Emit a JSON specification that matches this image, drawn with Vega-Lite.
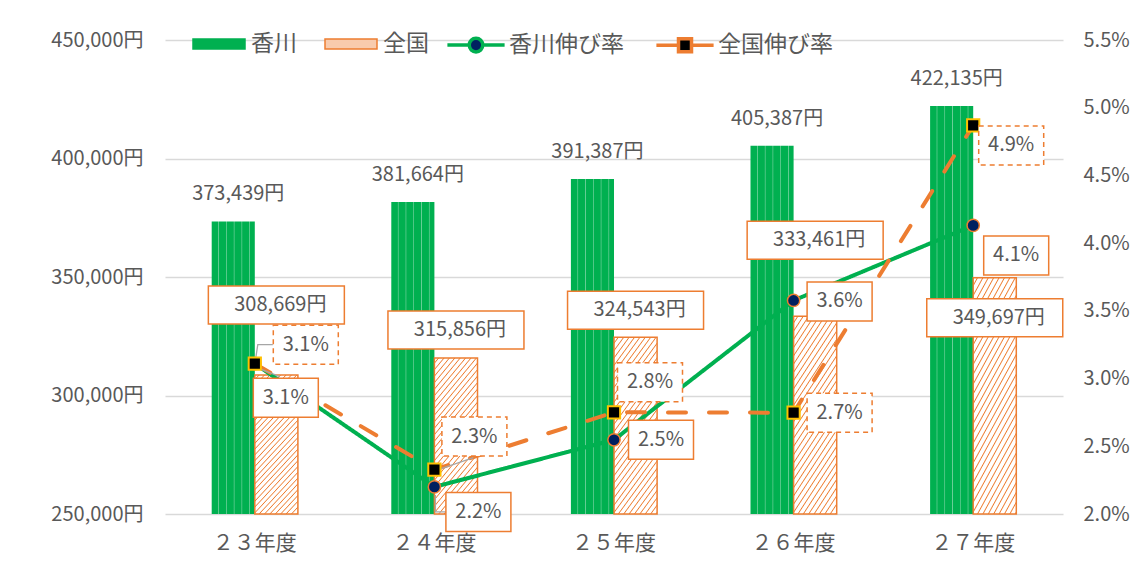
{
  "$schema": "https://vega.github.io/schema/vega-lite/v6.json",
  "width": 898,
  "height": 474,
  "autosize": {"type": "none"},
  "padding": {"left": 165, "top": 40, "right": 76, "bottom": 58},
  "background": "#ffffff",
  "params": [
    {"name": "yrs", "value": ["２３年度", "２４年度", "２５年度", "２６年度", "２７年度"]},
    {"name": "ady", "value": [-70, -28, -27, -76, 40]},
    {"name": "kdx", "value": [31, 44, 47, 46, 43]},
    {"name": "kdy", "value": [34, 25, 0, 1, 30]},
    {"name": "zdx", "value": [51, 40, 36, 46, 38]},
    {"name": "zdy", "value": [-19, -33, -30, 0, 20]},
    {"name": "kld", "value": ["M2,4L25,13", "M1,8V25H13"]},
    {"name": "zld", "value": ["M1,-6L3,-19H18", "M4,0L39,-12"]}
  ],
  "config": {
    "font": "Noto Sans CJK JP",
    "locale": {"number": {"decimal": ".", "thousands": ",", "grouping": [3], "currency": ["", "円"]}},
    "view": {"stroke": null},
    "axis": {"labelFont": "Noto Sans CJK JP", "labelColor": "#595959", "labelFontSize": 20, "ticks": false, "domain": false},
    "legend": {"labelFont": "Noto Sans CJK JP", "labelFontSize": 23, "labelColor": "#595959", "labelLimit": 300, "padding": 0, "symbolSize": 2704, "labelOffset": 5, "columnPadding": 25, "direction": "horizontal", "orient": "none", "symbolOpacity": 1}
  },
  "datasets": {
    "amounts": [
      {"year": "２３年度", "series": "香川", "value": 373439},
      {"year": "２４年度", "series": "香川", "value": 381664},
      {"year": "２５年度", "series": "香川", "value": 391387},
      {"year": "２６年度", "series": "香川", "value": 405387},
      {"year": "２７年度", "series": "香川", "value": 422135},
      {"year": "２３年度", "series": "全国", "value": 308669},
      {"year": "２４年度", "series": "全国", "value": 315856},
      {"year": "２５年度", "series": "全国", "value": 324543},
      {"year": "２６年度", "series": "全国", "value": 333461},
      {"year": "２７年度", "series": "全国", "value": 349697}
    ],
    "rates": [
      {"year": "２３年度", "series": "香川伸び率", "rate": 0.0311},
      {"year": "２４年度", "series": "香川伸び率", "rate": 0.0220},
      {"year": "２５年度", "series": "香川伸び率", "rate": 0.02548},
      {"year": "２６年度", "series": "香川伸び率", "rate": 0.03577},
      {"year": "２７年度", "series": "香川伸び率", "rate": 0.04131},
      {"year": "２３年度", "series": "全国伸び率", "rate": 0.0311},
      {"year": "２４年度", "series": "全国伸び率", "rate": 0.02328},
      {"year": "２５年度", "series": "全国伸び率", "rate": 0.02751},
      {"year": "２６年度", "series": "全国伸び率", "rate": 0.02748},
      {"year": "２７年度", "series": "全国伸び率", "rate": 0.04869}
    ]
  },
  "encoding": {
    "x": {
      "field": "year", "type": "nominal", "title": null,
      "sort": ["２３年度", "２４年度", "２５年度", "２６年度", "２７年度"],
      "scale": {"paddingInner": 0.52, "paddingOuter": 0.26},
      "axis": {"labelAngle": 0, "labelPadding": 18, "labelFontSize": 21, "grid": false}
    }
  },
  "layer": [
    {
      "data": {"name": "amounts"},
      "encoding": {
        "y": {
          "field": "value", "type": "quantitative", "title": null,
          "scale": {"domain": [250000, 450000], "zero": false, "nice": false},
          "axis": {"values": [250000, 300000, 350000, 400000, 450000], "format": "$,d", "grid": true, "gridColor": "#D9D9D9", "gridWidth": 1.5, "labelPadding": 22}
        },
        "xOffset": {"field": "series", "type": "nominal", "scale": {"domain": ["香川", "全国"], "paddingInner": 0, "paddingOuter": 0}}
      },
      "layer": [
        {
          "mark": {"type": "bar", "opacity": 0},
          "encoding": {
            "y2": {"datum": 250000},
            "fill": {"field": "series", "type": "nominal", "scale": {"domain": ["香川", "全国"], "range": ["#00B050", "#F8CBAD"]},
              "legend": {"title": null, "legendX": 27, "legendY": -23, "symbolType": "M-1,-0.19H1V0.19H-1Z", "symbolStrokeWidth": 1.5}},
            "stroke": {"field": "series", "type": "nominal", "scale": {"domain": ["香川", "全国"], "range": ["#00B050", "#ED7D31"]},
              "legend": {"title": null, "legendX": 27, "legendY": -23, "symbolType": "M-1,-0.19H1V0.19H-1Z", "symbolStrokeWidth": 1.5}}
          }
        },
        {
          "transform": [{"filter": "datum.series === '香川'"}],
          "mark": {"type": "bar", "strokeWidth": 0, "fill": {"gradient": "linear", "x1": 0, "y1": 0, "x2": 1, "y2": 0, "stops": [
            {"offset": 0, "color": "#00B050"}, {"offset": 0.142, "color": "#00B050"}, {"offset": 0.16, "color": "#6ACF98"}, {"offset": 0.178, "color": "#00B050"},
            {"offset": 0.322, "color": "#00B050"}, {"offset": 0.34, "color": "#6ACF98"}, {"offset": 0.358, "color": "#00B050"},
            {"offset": 0.502, "color": "#00B050"}, {"offset": 0.52, "color": "#6ACF98"}, {"offset": 0.538, "color": "#00B050"},
            {"offset": 0.682, "color": "#00B050"}, {"offset": 0.7, "color": "#6ACF98"}, {"offset": 0.718, "color": "#00B050"},
            {"offset": 0.862, "color": "#00B050"}, {"offset": 0.88, "color": "#6ACF98"}, {"offset": 0.898, "color": "#00B050"}, {"offset": 1, "color": "#00B050"}]}},
          "encoding": {"y2": {"datum": 250000}}
        },
        {
          "transform": [{"filter": "datum.series === '全国'"}],
          "mark": {"type": "bar", "stroke": "#ED7D31", "strokeWidth": 1.5, "fill": {"gradient": "linear", "x1": 0, "y1": 0, "x2": 1, "y2": 3, "stops": [
            {"offset": 0, "color": "#FFFFFF"}, {"offset": 0.0075, "color": "#FFFFFF"}, {"offset": 0.01, "color": "#ED7D31"},
            {"offset": 0.0125, "color": "#FFFFFF"}, {"offset": 0.02, "color": "#FFFFFF"}, {"offset": 0.0225, "color": "#ED7D31"},
            {"offset": 0.025, "color": "#FFFFFF"}, {"offset": 0.0325, "color": "#FFFFFF"}, {"offset": 0.035, "color": "#ED7D31"},
            {"offset": 0.0375, "color": "#FFFFFF"}, {"offset": 0.045, "color": "#FFFFFF"}, {"offset": 0.0475, "color": "#ED7D31"},
            {"offset": 0.05, "color": "#FFFFFF"}, {"offset": 0.0575, "color": "#FFFFFF"}, {"offset": 0.06, "color": "#ED7D31"},
            {"offset": 0.0625, "color": "#FFFFFF"}, {"offset": 0.07, "color": "#FFFFFF"}, {"offset": 0.0725, "color": "#ED7D31"},
            {"offset": 0.075, "color": "#FFFFFF"}, {"offset": 0.0825, "color": "#FFFFFF"}, {"offset": 0.085, "color": "#ED7D31"},
            {"offset": 0.0875, "color": "#FFFFFF"}, {"offset": 0.095, "color": "#FFFFFF"}, {"offset": 0.0975, "color": "#ED7D31"},
            {"offset": 0.1, "color": "#FFFFFF"}, {"offset": 0.1075, "color": "#FFFFFF"}, {"offset": 0.11, "color": "#ED7D31"},
            {"offset": 0.1125, "color": "#FFFFFF"}, {"offset": 0.12, "color": "#FFFFFF"}, {"offset": 0.1225, "color": "#ED7D31"},
            {"offset": 0.125, "color": "#FFFFFF"}, {"offset": 0.1325, "color": "#FFFFFF"}, {"offset": 0.135, "color": "#ED7D31"},
            {"offset": 0.1375, "color": "#FFFFFF"}, {"offset": 0.145, "color": "#FFFFFF"}, {"offset": 0.1475, "color": "#ED7D31"},
            {"offset": 0.15, "color": "#FFFFFF"}, {"offset": 0.1575, "color": "#FFFFFF"}, {"offset": 0.16, "color": "#ED7D31"},
            {"offset": 0.1625, "color": "#FFFFFF"}, {"offset": 0.17, "color": "#FFFFFF"}, {"offset": 0.1725, "color": "#ED7D31"},
            {"offset": 0.175, "color": "#FFFFFF"}, {"offset": 0.1825, "color": "#FFFFFF"}, {"offset": 0.185, "color": "#ED7D31"},
            {"offset": 0.1875, "color": "#FFFFFF"}, {"offset": 0.195, "color": "#FFFFFF"}, {"offset": 0.1975, "color": "#ED7D31"},
            {"offset": 0.2, "color": "#FFFFFF"}, {"offset": 0.2075, "color": "#FFFFFF"}, {"offset": 0.21, "color": "#ED7D31"},
            {"offset": 0.2125, "color": "#FFFFFF"}, {"offset": 0.22, "color": "#FFFFFF"}, {"offset": 0.2225, "color": "#ED7D31"},
            {"offset": 0.225, "color": "#FFFFFF"}, {"offset": 0.2325, "color": "#FFFFFF"}, {"offset": 0.235, "color": "#ED7D31"},
            {"offset": 0.2375, "color": "#FFFFFF"}, {"offset": 0.245, "color": "#FFFFFF"}, {"offset": 0.2475, "color": "#ED7D31"},
            {"offset": 0.25, "color": "#FFFFFF"}, {"offset": 0.2575, "color": "#FFFFFF"}, {"offset": 0.26, "color": "#ED7D31"},
            {"offset": 0.2625, "color": "#FFFFFF"}, {"offset": 0.27, "color": "#FFFFFF"}, {"offset": 0.2725, "color": "#ED7D31"},
            {"offset": 0.275, "color": "#FFFFFF"}, {"offset": 0.2825, "color": "#FFFFFF"}, {"offset": 0.285, "color": "#ED7D31"},
            {"offset": 0.2875, "color": "#FFFFFF"}, {"offset": 0.295, "color": "#FFFFFF"}, {"offset": 0.2975, "color": "#ED7D31"},
            {"offset": 0.3, "color": "#FFFFFF"}, {"offset": 0.3075, "color": "#FFFFFF"}, {"offset": 0.31, "color": "#ED7D31"},
            {"offset": 0.3125, "color": "#FFFFFF"}, {"offset": 0.32, "color": "#FFFFFF"}, {"offset": 0.3225, "color": "#ED7D31"},
            {"offset": 0.325, "color": "#FFFFFF"}, {"offset": 0.3325, "color": "#FFFFFF"}, {"offset": 0.335, "color": "#ED7D31"},
            {"offset": 0.3375, "color": "#FFFFFF"}, {"offset": 0.345, "color": "#FFFFFF"}, {"offset": 0.3475, "color": "#ED7D31"},
            {"offset": 0.35, "color": "#FFFFFF"}, {"offset": 0.3575, "color": "#FFFFFF"}, {"offset": 0.36, "color": "#ED7D31"},
            {"offset": 0.3625, "color": "#FFFFFF"}, {"offset": 0.37, "color": "#FFFFFF"}, {"offset": 0.3725, "color": "#ED7D31"},
            {"offset": 0.375, "color": "#FFFFFF"}, {"offset": 0.3825, "color": "#FFFFFF"}, {"offset": 0.385, "color": "#ED7D31"},
            {"offset": 0.3875, "color": "#FFFFFF"}, {"offset": 0.395, "color": "#FFFFFF"}, {"offset": 0.3975, "color": "#ED7D31"},
            {"offset": 0.4, "color": "#FFFFFF"}, {"offset": 1, "color": "#FFFFFF"}]}},
          "encoding": {"y2": {"datum": 250000}}
        },
        {
          "transform": [{"filter": "datum.series === '香川'"}],
          "mark": {"type": "text", "dx": 5, "dy": -27, "fontSize": 20, "fill": "#595959", "baseline": "middle", "align": "center"},
          "encoding": {"text": {"field": "value", "type": "quantitative", "format": "$,d"}}
        },
        {
          "transform": [{"filter": "datum.series === '全国'"}],
          "mark": {"type": "point", "size": 4, "filled": true, "fill": "#ffffff", "stroke": "#ED7D31", "strokeWidth": 1.5, "opacity": 1,
            "shape": {"expr": "'M-68,' + (ady[indexof(yrs, datum.year)] - 19) + 'H68V' + (ady[indexof(yrs, datum.year)] + 19) + 'H-68Z'"}}
        },
        {
          "transform": [{"filter": "datum.series === '全国'"}],
          "mark": {"type": "text", "dx": 4, "fontSize": 20, "fill": "#595959", "baseline": "middle", "align": "center",
            "dy": {"expr": "ady[indexof(yrs, datum.year)]"}},
          "encoding": {"text": {"field": "value", "type": "quantitative", "format": "$,d"}}
        }
      ]
    },
    {
      "data": {"name": "rates"},
      "encoding": {
        "y": {
          "field": "rate", "type": "quantitative", "title": null,
          "scale": {"domain": [0.02, 0.055], "zero": false, "nice": false},
          "axis": {"orient": "right", "values": [0.02, 0.025, 0.03, 0.035, 0.04, 0.045, 0.05, 0.055], "format": ".1%", "grid": false, "labelPadding": 20}
        }
      },
      "layer": [
        {
          "mark": {"type": "line", "strokeWidth": 4, "strokeCap": "round"},
          "encoding": {
            "color": {
              "field": "series", "type": "nominal",
              "scale": {"domain": ["香川伸び率", "全国伸び率"], "range": ["#00B050", "#ED7D31"]},
              "legend": null
            },
            "strokeDash": {
              "field": "series", "type": "nominal",
              "scale": {"domain": ["香川伸び率", "全国伸び率"], "range": [[1, 0], [18, 23]]},
              "legend": null
            }
          }
        },
        {
          "mark": {"type": "point", "size": 2704, "filled": true, "opacity": 0,
            "shape": {"expr": "(datum.value === '香川伸び率' || datum.series === '香川伸び率') ? 'M-1.1,0H-0.26M0.26,0H1.1M-0.26,0A0.26,0.26 0 1,0 0.26,0A0.26,0.26 0 1,0 -0.26,0Z' : 'M-1.1,0H-0.25M0.25,0H1.1M-0.25,-0.25H0.25V0.25H-0.25Z'"}},
          "encoding": {
            "fill": {"field": "series", "type": "nominal",
              "scale": {"domain": ["香川伸び率", "全国伸び率"], "range": ["#002060", "#000000"]},
              "legend": {"title": null, "legendX": 283, "legendY": -23, "symbolStrokeWidth": 3.5,
                "symbolType": {"expr": "datum.value === '香川伸び率' ? 'M-1.1,0H-0.26M0.26,0H1.1M-0.26,0A0.26,0.26 0 1,0 0.26,0A0.26,0.26 0 1,0 -0.26,0Z' : 'M-1.1,0H-0.25M0.25,0H1.1M-0.25,-0.25H0.25V0.25H-0.25Z'"}}},
            "stroke": {"field": "series", "type": "nominal",
              "scale": {"domain": ["香川伸び率", "全国伸び率"], "range": ["#00B050", "#ED7D31"]},
              "legend": {"title": null, "legendX": 283, "legendY": -23, "symbolStrokeWidth": 3.5,
                "symbolType": {"expr": "datum.value === '香川伸び率' ? 'M-1.1,0H-0.26M0.26,0H1.1M-0.26,0A0.26,0.26 0 1,0 0.26,0A0.26,0.26 0 1,0 -0.26,0Z' : 'M-1.1,0H-0.25M0.25,0H1.1M-0.25,-0.25H0.25V0.25H-0.25Z'"}}}
          }
        },
        {
          "transform": [{"filter": "indexof(yrs, datum.year) < 2"}],
          "mark": {"type": "point", "size": 4, "filled": false, "stroke": "#A6A6A6", "strokeWidth": 1.3, "opacity": 1,
            "shape": {"expr": "datum.series === '香川伸び率' ? kld[indexof(yrs, datum.year)] : zld[indexof(yrs, datum.year)]"}}
        },
        {
          "transform": [{"filter": "datum.series === '香川伸び率'"}],
          "mark": {"type": "point", "shape": "circle", "size": 150, "filled": true, "fill": "#002060", "stroke": "#ED7D31", "strokeWidth": 1.5, "opacity": 1}
        },
        {
          "transform": [{"filter": "datum.series === '全国伸び率'"}],
          "mark": {"type": "point", "shape": "square", "size": 150, "filled": true, "fill": "#000000", "stroke": "#FFC000", "strokeWidth": 2, "opacity": 1}
        },
        {
          "transform": [{"filter": "datum.series === '香川伸び率'"}],
          "mark": {"type": "point", "size": 4, "filled": true, "fill": "#ffffff", "stroke": "#ED7D31", "strokeWidth": 1.5, "opacity": 1,
            "shape": {"expr": "'M' + (kdx[indexof(yrs, datum.year)] - 32.5) + ',' + (kdy[indexof(yrs, datum.year)] - 19.5) + 'H' + (kdx[indexof(yrs, datum.year)] + 32.5) + 'V' + (kdy[indexof(yrs, datum.year)] + 19.5) + 'H' + (kdx[indexof(yrs, datum.year)] - 32.5) + 'Z'"}}
        },
        {
          "transform": [{"filter": "datum.series === '全国伸び率'"}],
          "mark": {"type": "point", "size": 4, "filled": true, "fill": "#ffffff", "stroke": "#ED7D31", "strokeWidth": 1.5, "strokeDash": [5, 4], "opacity": 1,
            "shape": {"expr": "'M' + (zdx[indexof(yrs, datum.year)] - 32.5) + ',' + (zdy[indexof(yrs, datum.year)] - 19.5) + 'H' + (zdx[indexof(yrs, datum.year)] + 32.5) + 'V' + (zdy[indexof(yrs, datum.year)] + 19.5) + 'H' + (zdx[indexof(yrs, datum.year)] - 32.5) + 'Z'"}}
        },
        {
          "transform": [{"filter": "datum.series === '香川伸び率'"}],
          "mark": {"type": "text", "fontSize": 20, "fill": "#595959", "baseline": "middle", "align": "center",
            "dx": {"expr": "kdx[indexof(yrs, datum.year)]"},
            "dy": {"expr": "kdy[indexof(yrs, datum.year)]"}},
          "encoding": {"text": {"field": "rate", "type": "quantitative", "format": ".1%"}}
        },
        {
          "transform": [{"filter": "datum.series === '全国伸び率'"}],
          "mark": {"type": "text", "fontSize": 20, "fill": "#595959", "baseline": "middle", "align": "center",
            "dx": {"expr": "zdx[indexof(yrs, datum.year)]"},
            "dy": {"expr": "zdy[indexof(yrs, datum.year)]"}},
          "encoding": {"text": {"field": "rate", "type": "quantitative", "format": ".1%"}}
        }
      ]
    }
  ],
  "resolve": {"scale": {"y": "independent", "fill": "independent", "stroke": "independent"}}
}
